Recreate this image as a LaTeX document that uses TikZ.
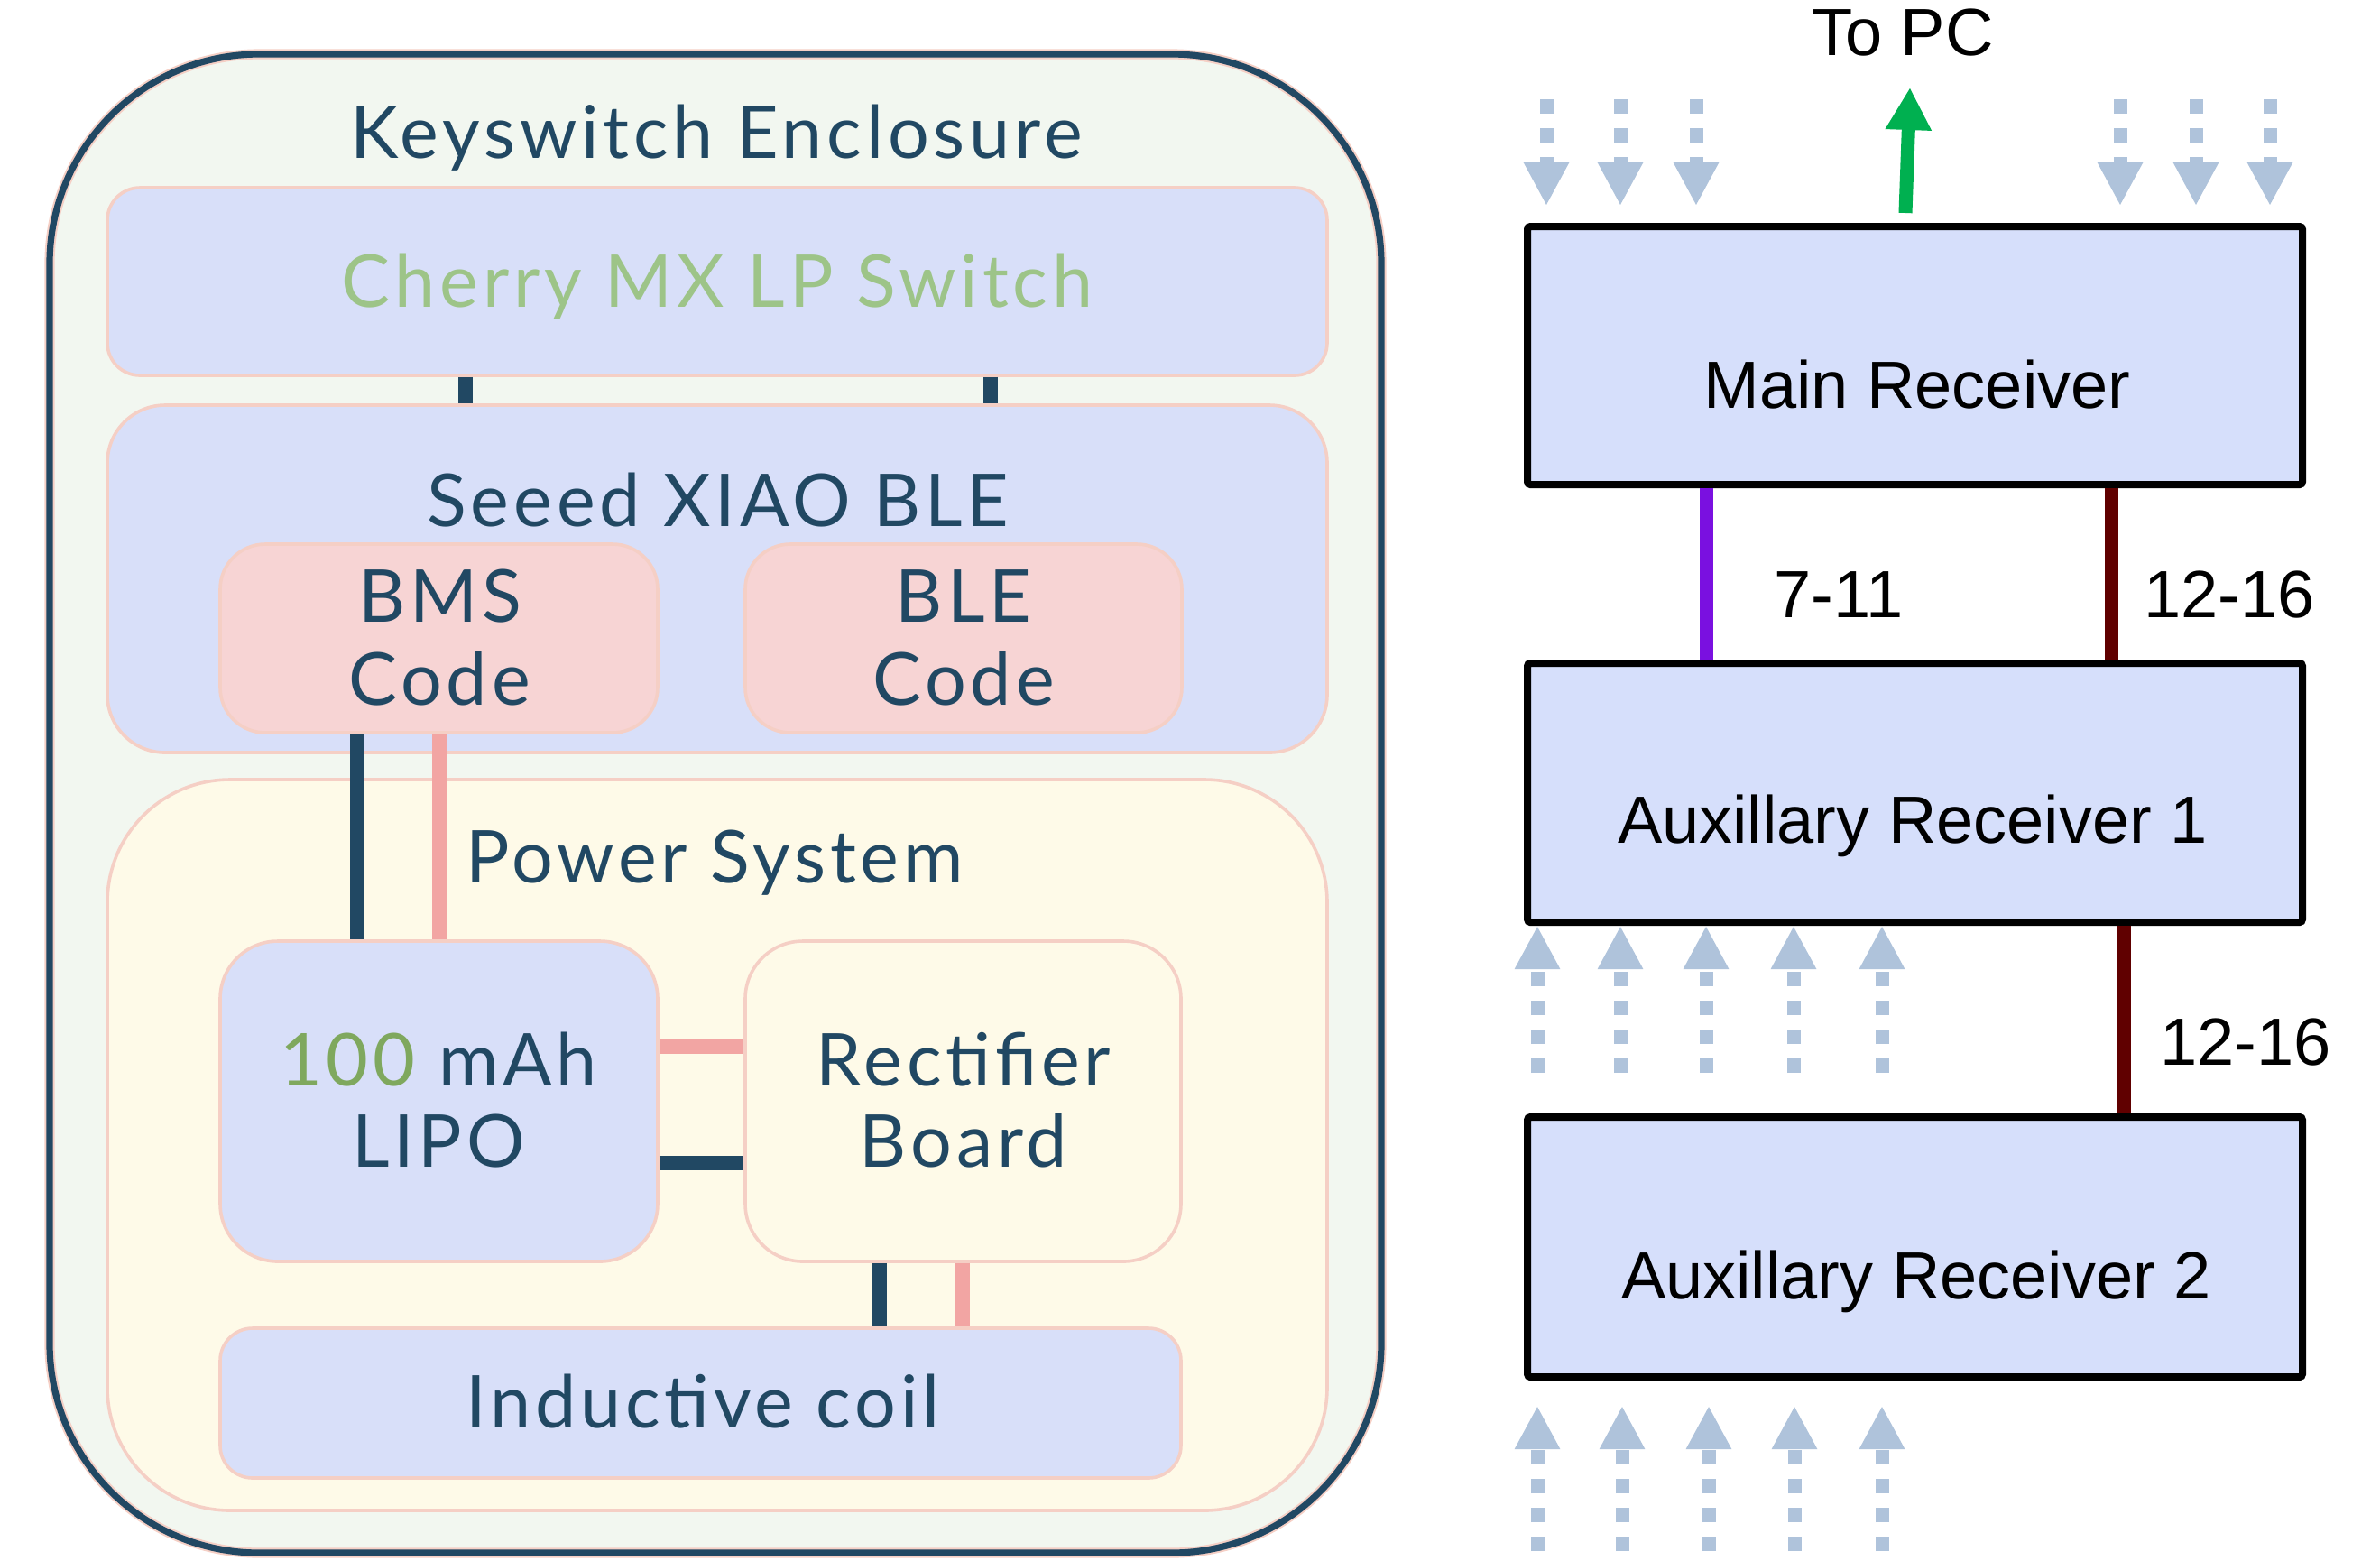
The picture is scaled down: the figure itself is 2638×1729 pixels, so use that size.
\documentclass[tikz,border=0pt]{standalone}
\usepackage{fontspec}
\usetikzlibrary{arrows.meta,fit}
\newfontfamily\qfont{Lato}[LetterSpace=6]
\newfontfamily\afont{Liberation Sans}
\definecolor{navy}{HTML}{214863}
\definecolor{pinkedge}{HTML}{F5CFC5}
\definecolor{enclfill}{HTML}{F2F7F0}
\definecolor{boxblue}{HTML}{D8DFF9}
\definecolor{codepink}{HTML}{F7D4D4}
\definecolor{cream}{HTML}{FEFAE8}
\definecolor{cherrygreen}{HTML}{9DC488}
\definecolor{hundredgreen}{HTML}{7FA85E}
\definecolor{pinkwire}{HTML}{F2A5A3}
\definecolor{rboxfill}{HTML}{D6DFFB}
\definecolor{ghost}{HTML}{AFC3DB}
\definecolor{pcgreen}{HTML}{00B050}
\definecolor{purplewire}{HTML}{7A10E0}
\definecolor{maroonwire}{HTML}{600000}
\begin{document}
\begin{tikzpicture}[x=0.25pt,y=-0.25pt,
  basebox/.style={draw=pinkedge, line width=0.9pt, inner sep=0pt},
  bluebox/.style={basebox, fill=boxblue},
  pinkbox/.style={basebox, fill=codepink},
  creambox/.style={basebox, fill=cream},
  enclbox/.style={draw=pinkedge, double=navy, double distance=1.8pt, line width=0.5pt, fill=enclfill, inner sep=0pt, rounded corners=58pt},
  rbox/.style={draw=black, line width=2pt, fill=rboxfill, inner sep=0pt, rounded corners=0.8pt},
  lbl/.style={anchor=base, text=navy, inner sep=0pt, font=\qfont\fontsize{20.2}{24}\selectfont},
  rlbl/.style={anchor=base, text=black, inner sep=0pt, font=\afont\fontsize{18.5}{22}\selectfont},
  darkwire/.style={draw=navy, line width=4pt},
  pwire/.style={draw=pinkwire, line width=4pt},
  rwire/.style={line width=3.75pt},
  ghostarrow/.style={draw=ghost, line width=3.75pt, dash pattern=on 4pt off 4pt, -{Triangle[length=12pt,width=11.75pt]}},
  pcarrow/.style={draw=pcgreen, line width=3.75pt, -{Triangle[length=11.75pt,width=12pt]}}
]
\useasboundingbox (0,0) rectangle (2638,1729);

% ---------------- left: keyswitch enclosure ----------------
\node[enclbox, fit={(55,60) (1531,1721)}] (enc) {};
\node[bluebox, rounded corners=9pt, fit={(119,208) (1471,416)}] (cherry) {};
\node[bluebox, rounded corners=16pt, fit={(119,449) (1471,834)}] (seeed) {};
\node[pinkbox, rounded corners=12.5pt, fit={(244,603) (729,812)}] (bms) {};
\node[pinkbox, rounded corners=12.5pt, fit={(826,603) (1310,812)}] (ble) {};
\node[creambox, rounded corners=34pt, fit={(119,864) (1471,1674)}] (power) {};
\node[bluebox, rounded corners=16pt, fit={(244,1043) (729,1398)}] (lipo) {};
\node[creambox, rounded corners=16pt, fit={(826,1043) (1309,1398)}] (rect) {};
\node[bluebox, rounded corners=9pt, fit={(244,1472) (1309,1638)}] (coil) {};

\node[lbl] (tenc) at (794,175) {Keyswitch Enclosure};
\node[lbl, text=cherrygreen] (tcherry) at (795,340) {Cherry MX LP Switch};
\node[lbl] (tseeed) at (796,583) {Seeed XIAO BLE};
\node[lbl] (tbms1) at (488,689) {BMS};
\node[lbl] (tbms2) at (487,781) {Code};
\node[lbl] (tble1) at (1068,689) {BLE};
\node[lbl] (tble2) at (1068,781) {Code};
\node[lbl] (tpower) at (792,978) {Power System};
\node[lbl] (tlipo1) at (486,1203) {{\color{hundredgreen}100} mAh};
\node[lbl] (tlipo2) at (486,1293) {LIPO};
\node[lbl] (trect1) at (1068,1203) {Rectifier};
\node[lbl] (trect2) at (1068,1293) {Board};
\node[lbl] (tcoil) at (779,1582) {Inductive coil};

% x and y positions of the wires
\coordinate (xa) at (516,0);
\coordinate (xb) at (1098,0);
\coordinate (xc) at (396,0);
\coordinate (xd) at (487,0);
\coordinate (xe) at (975,0);
\coordinate (xf) at (1067,0);
\coordinate (ya) at (0,1160);
\coordinate (yb) at (0,1289);

\draw[darkwire] (cherry.south -| xa) -- (seeed.north -| xa);
\draw[darkwire] (cherry.south -| xb) -- (seeed.north -| xb);
\draw[darkwire] (bms.south -| xc) -- (lipo.north -| xc);
\draw[pwire] (bms.south -| xd) -- (lipo.north -| xd);
\draw[pwire] (lipo.east |- ya) -- (rect.west |- ya);
\draw[darkwire] (lipo.east |- yb) -- (rect.west |- yb);
\draw[darkwire] (rect.south -| xe) -- (coil.north -| xe);
\draw[pwire] (rect.south -| xf) -- (coil.north -| xf);

% ---------------- right: receivers ----------------
\node[rbox, fit={(1693,251) (2552,537)}] (main) {};
\node[rbox, fit={(1693,735) (2552,1022)}] (aux1) {};
\node[rbox, fit={(1693,1238) (2552,1526)}] (aux2) {};

\node[rlbl] (tmain) at (2125,452) {Main Receiver};
\node[rlbl] (taux1) at (2120,934) {Auxillary Receiver 1};
\node[rlbl] (taux2) at (2124,1439) {Auxillary Receiver 2};
\node[rlbl] (tpc) at (2109,61) {To PC};
\node[rlbl] (l711) at (2038,684) {7-11};
\node[rlbl] (l1216a) at (2471,684) {12-16};
\node[rlbl] (l1216b) at (2489,1180) {12-16};

\coordinate (xp) at (1891,0);
\coordinate (xm) at (2340,0);
\coordinate (xn) at (2354,0);
\draw[rwire, purplewire] (main.south -| xp) -- (aux1.north -| xp);
\draw[rwire, maroonwire] (main.south -| xm) -- (aux1.north -| xm);
\draw[rwire, maroonwire] (aux1.south -| xn) -- (aux2.north -| xn);

\coordinate (pcs) at (2112,236);
\coordinate (pct) at (2117,97);
\draw[pcarrow] (pcs) -- (pct);

\foreach \x [count=\i] in {1714,1796,1880,2350,2434,2516} {
  \coordinate (ds\i) at (\x,110);
  \coordinate (dt\i) at (\x,228);
  \draw[ghostarrow] (ds\i) -- (dt\i);
}
\foreach \x [count=\i] in {1704,1796,1891,1988,2086} {
  \coordinate (us\i) at (\x,1189);
  \coordinate (ut\i) at (\x,1026);
  \draw[ghostarrow] (us\i) -- (ut\i);
}
\foreach \x [count=\i] in {1704,1798,1894,1989,2086} {
  \coordinate (bs\i) at (\x,1719);
  \coordinate (bt\i) at (\x,1558);
  \draw[ghostarrow] (bs\i) -- (bt\i);
}
\end{tikzpicture}
\end{document}
